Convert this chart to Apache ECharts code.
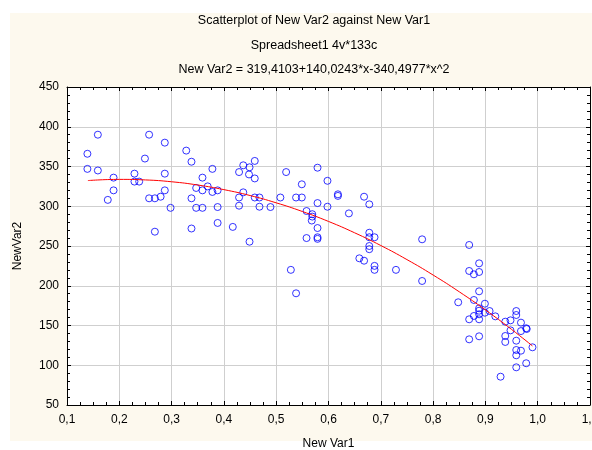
<!DOCTYPE html>
<html>
<head>
<meta charset="utf-8">
<script src="https://cdn.jsdelivr.net/npm/echarts@6/dist/echarts.min.js"></script>
<style>html,body{margin:0;padding:0;background:#fff}#c{width:592px;height:450px}</style>
</head>
<body>
<div id="c"></div>
<script>
var titleLines = ["Scatterplot of New Var2 against New Var1", "Spreadsheet1 4v*133c", "New Var2 = 319,4103+140,0243*x-340,4977*x^2"];
var xName = "New Var1";
var yName = "NewVar2";
var var1 = [0.139,0.159,0.139,0.159,0.189,0.189,0.178,0.229,0.229,0.238,0.257,0.249,0.257,0.268,0.279,0.268,0.287,0.287,0.287,0.298,0.328,0.338,0.359,0.378,0.347,0.359,0.369,0.378,0.388,0.338,0.347,0.359,0.388,0.338,0.388,0.417,
 0.459,0.437,0.449,0.429,0.448,0.459,0.519,0.579,0.549,0.598,0.618,0.618,0.668,0.678,0.437,0.429,0.459,0.468,0.429,0.468,0.489,0.508,0.538,0.549,0.579,0.598,0.639,0.558,0.569,0.569,0.568,0.579,0.558,0.579,0.579,0.449,0.528,0.538,0.659,0.668,0.678,0.678,0.688,0.678,0.678,0.688,0.688,0.729,
 0.779,0.779,0.869,0.888,0.869,0.878,0.888,0.888,0.848,0.878,0.899,0.888,0.888,0.899,0.908,0.919,0.869,0.878,0.888,0.888,0.869,0.888,0.938,0.948,0.959,0.959,0.968,0.978,0.979,0.948,0.968,0.938,0.938,0.959,0.959,0.968,0.959,0.990,0.978,0.959,0.929];
var var2 = [366,390,347,345,336,320,308,341,331,331,390,360,310,310,312,268,380,341,320,298,370,356,336,347,323,320,325,318,320,310,298,298,299,272,279,274,
 357,351.5,349,343,340,335,343,348.5,327.6,332,315,313,312,302.4,317.5,311,311,311,300.7,299.4,299,311,311,311,304,299.4,291,294,290,287,282,272.6,260,261,259,255.4,220,190.5,234.5,231.5,266.7,261,261,250,246,225,220,220,
 258.4,206,251.3,228.2,218.6,214.4,217.3,193,179.2,182.1,177.4,171.6,168.6,166.1,168.2,161.5,157.8,162,157.8,164.1,132.6,136.4,154.8,156.5,168.2,163.2,153.6,146.5,145.6,143.9,143,136.8,129.3,130.9,119.2,118.3,112.5,122.6,102.5,97.4,85.6];
var fitX = [0.14,0.2,0.25,0.3,0.35,0.4,0.45,0.5,0.55,0.6,0.65,0.7,0.75,0.8,0.85,0.9,0.95,0.99];
var fitY = [332.3,333.8,333.1,330.8,326.7,320.9,313.5,304.3,293.4,280.9,266.6,250.6,232.9,213.5,192.4,169.6,145.1,124.3];
var xTicks = {min:0.1, max:1.1, interval:0.1};
var yTicks = {min:50, max:450, interval:50};

var pts = var1.map(function(x,i){return [x, var2[i]];});
var fit = fitX.map(function(x,i){return [x, fitY[i]];});
var FONT = "'Liberation Sans', Arial, sans-serif";
var chart = echarts.init(document.getElementById('c'), null, {renderer:'canvas'});
function fmtX(v){ return (Math.round(v*10)/10).toFixed(1).replace('.', ','); }
var baseAxis = {
  axisLine:{show:true, onZero:false, lineStyle:{color:'#000', width:1}},
  axisTick:{show:true, inside:true, length:4, lineStyle:{color:'#000'}},
  axisLabel:{color:'#000', fontFamily:FONT, fontSize:12}
};
chart.setOption({
  animation:false,
  backgroundColor:'#ffffff',
  graphic:[
    {type:'rect', z:-10, silent:true, shape:{x:10, y:13, width:582, height:428}, style:{fill:'#fdf9ee'}},
    {type:'text', x:314, y:21, style:{text:titleLines[0], fill:'#000', font:'12.5px '+FONT, textAlign:'center', textVerticalAlign:'middle'}},
    {type:'text', x:314, y:46, style:{text:titleLines[1], fill:'#000', font:'12.5px '+FONT, textAlign:'center', textVerticalAlign:'middle'}},
    {type:'text', x:314, y:70, style:{text:titleLines[2], fill:'#000', font:'12.5px '+FONT, textAlign:'center', textVerticalAlign:'middle'}}
  ],
  grid:{left:67, right:2, top:87, bottom:45, show:true, backgroundColor:'#ffffff', borderWidth:0, outerBoundsMode:'none', containLabel:false},
  xAxis:[
    Object.assign({}, baseAxis, {type:'value', position:'bottom', min:xTicks.min, max:xTicks.max, interval:xTicks.interval,
      minorTick:{show:true, splitNumber:4, length:3, lineStyle:{color:'#000'}},
      axisLabel:{color:'#000', fontFamily:FONT, fontSize:12, margin:9, formatter:fmtX, showMaxLabel:true, showMinLabel:true, hideOverlap:false},
      splitLine:{show:true, lineStyle:{color:'#cfcfcf', width:1}},
      name:xName, nameLocation:'middle', nameGap:33, nameTextStyle:{color:'#000', fontFamily:FONT, fontSize:12}}),
    Object.assign({}, baseAxis, {type:'value', position:'top', min:xTicks.min, max:xTicks.max, interval:xTicks.interval,
      minorTick:{show:true, splitNumber:4, length:3, lineStyle:{color:'#000'}},
      axisLabel:{show:false}, splitLine:{show:false}})
  ],
  yAxis:[
    Object.assign({}, baseAxis, {type:'value', position:'left', min:yTicks.min, max:yTicks.max, interval:yTicks.interval,
      minorTick:{show:true, splitNumber:5, length:3, lineStyle:{color:'#000'}},
      axisLabel:{color:'#000', fontFamily:FONT, fontSize:12, margin:8},
      splitLine:{show:true, lineStyle:{color:'#cfcfcf', width:1}},
      name:yName, nameLocation:'middle', nameGap:43, nameRotate:90, nameTextStyle:{color:'#000', fontFamily:FONT, fontSize:12}}),
    Object.assign({}, baseAxis, {type:'value', position:'right', min:yTicks.min, max:yTicks.max, interval:yTicks.interval,
      minorTick:{show:true, splitNumber:5, length:3, lineStyle:{color:'#000'}},
      axisLabel:{show:false}, splitLine:{show:false}})
  ],
  series:[
    {type:'scatter', xAxisIndex:0, yAxisIndex:0, data:pts, symbol:'circle', symbolSize:7,
     itemStyle:{color:'rgba(0,0,0,0)', borderColor:'#0000ff', borderWidth:1}, z:3},
    {type:'line', xAxisIndex:0, yAxisIndex:0, data:fit, smooth:true, showSymbol:false, symbol:'none',
     lineStyle:{color:'#ff0000', width:1}, z:4}
  ]
});
</script>
</body>
</html>
